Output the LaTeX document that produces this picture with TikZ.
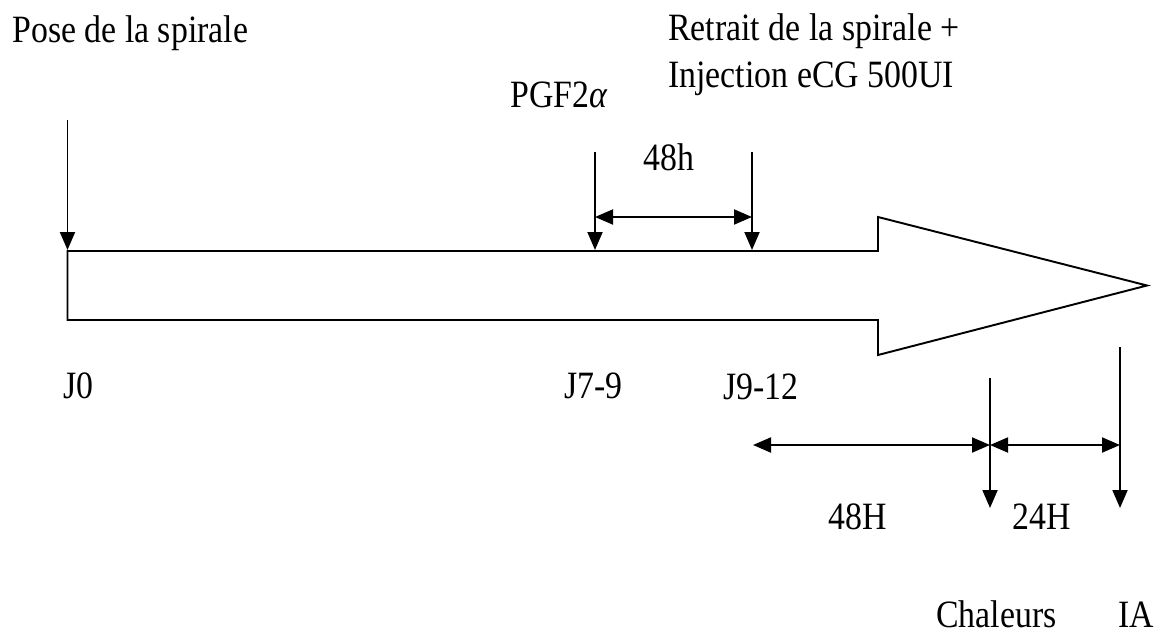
\documentclass[tikz,border=0pt]{standalone}
\usepackage{fontspec}
\setmainfont{Liberation Serif}
\usepackage{tikz}
\usetikzlibrary{arrows.meta,positioning}

\begin{document}
\begin{tikzpicture}[scale=1.0,
  evt/.style={-{Triangle[length=0.36cm,width=0.3cm]},line width=1.1pt},
  span/.style={{Triangle[length=0.36cm,width=0.3cm]}-{Triangle[length=0.36cm,width=0.3cm]},line width=1.1pt},
  lbl/.style={font=\fontsize{22}{26.7}\selectfont,anchor=base west,inner sep=0pt,xscale=0.875}]
\useasboundingbox (0,0) rectangle (23.22,12.66);
% Timeline: large outlined arrow
\draw[line width=1.1pt,line join=miter]
  (1.35,7.64) -- (17.56,7.64) -- (17.56,8.32) -- (22.94,6.95)
  -- (17.56,5.56) -- (17.56,6.26) -- (1.35,6.26) -- cycle;
% Labels above the timeline
\node[lbl] (pose) at (0.24,11.82) {Pose de la spirale};
\node[lbl,align=left] (retrait) at (13.36,10.92) {Retrait de la spirale +\\Injection eCG 500UI};
\node[lbl] (pgf) at (10.20,10.52) {PGF2\textit{α}};
\node[lbl] (h48) at (12.86,9.26) {48h};
% Day labels below the timeline
\node[lbl] (j0) at (1.26,4.70) {J0};
\node[lbl] (j79) at (11.28,4.70) {J7-9};
\node[lbl] (j912) at (14.46,4.68) {J9-12};
% Intervals and events after removal
\node[lbl] (H48) at (16.56,2.08) {48H};
\node[lbl] (H24) at (20.24,2.08) {24H};
\node[lbl] (chaleurs) at (18.72,0.12) {Chaleurs};
\node[lbl] (ia) at (22.36,0.12) {IA};
% Arrow ends
\coordinate (s0) at (1.35,10.26);  \coordinate (t0) at (1.35,7.66);
\coordinate (s1) at (11.90,9.62);  \coordinate (t1) at (11.90,7.66);
\coordinate (s2) at (15.04,9.62);  \coordinate (t2) at (15.04,7.66);
\coordinate (a1) at (11.90,8.32);  \coordinate (a2) at (15.04,8.32);
\coordinate (b0) at (15.06,3.76);  \coordinate (b1) at (19.80,3.76);
\coordinate (b2) at (22.40,3.76);
\coordinate (c0) at (19.80,5.10);  \coordinate (c1) at (19.80,2.50);
\coordinate (d0) at (22.40,5.72);  \coordinate (d1) at (22.40,2.50);
% Treatment events
\draw[evt] (s0) -- (t0);
\draw[evt] (s1) -- (t1);
\draw[evt] (s2) -- (t2);
\draw[span] (a1) -- (a2);
% Heat and insemination
\draw[span] (b0) -- (b1);
\draw[span] (b1) -- (b2);
\draw[evt] (c0) -- (c1);
\draw[evt] (d0) -- (d1);
\end{tikzpicture}
\end{document}
